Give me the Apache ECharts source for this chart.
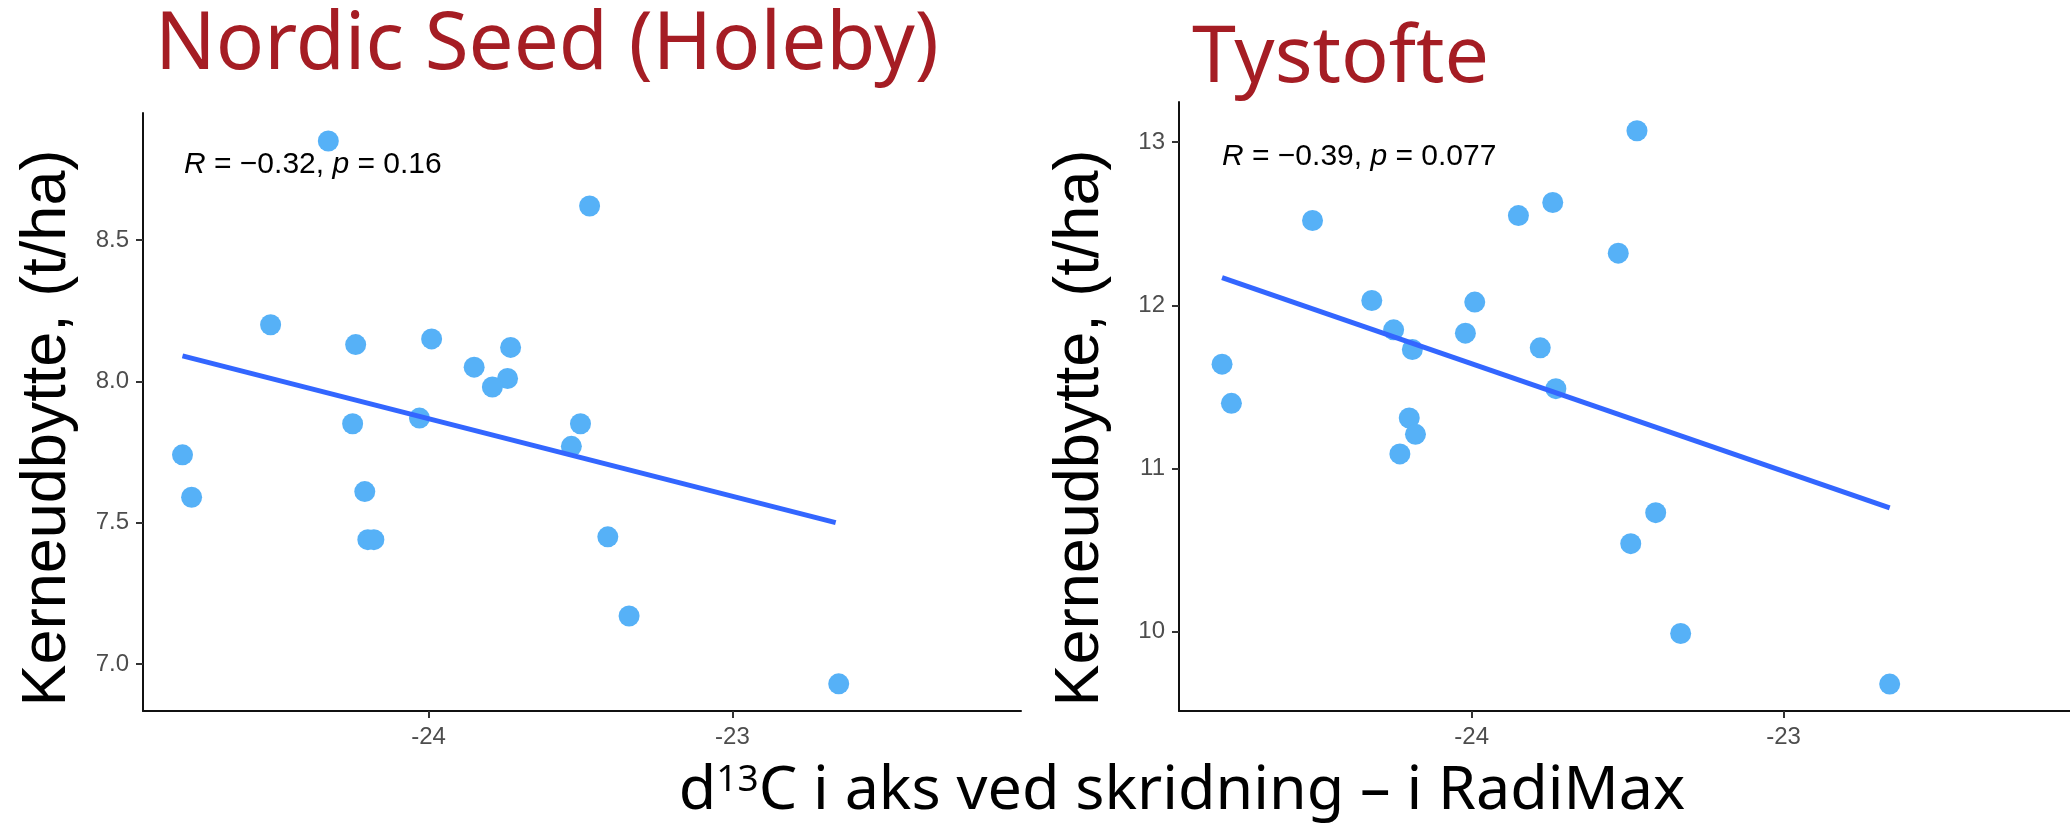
<!DOCTYPE html>
<html>
<head>
<meta charset="utf-8">
<script src="https://cdn.jsdelivr.net/npm/echarts@6/dist/echarts.min.js"></script>
<style>
html, body { margin: 0; padding: 0; background: #fff; }
#main { width: 2070px; height: 827px; }
</style>
</head>
<body>
<div id="main"></div>
<script>
// Nordic Seed (Holeby)
var holebyX = [-24.33, -23.47, -24.52, -24.24, -23.99, -23.73, -23.85, -23.74, -23.79, -24.25, -24.03,
               -23.50, -23.53, -24.81, -24.78, -24.21, -24.20, -24.18, -23.41, -23.34, -22.65];
var holebyY = [8.85, 8.62, 8.20, 8.13, 8.15, 8.12, 8.05, 8.01, 7.98, 7.85, 7.87,
               7.85, 7.77, 7.74, 7.59, 7.61, 7.44, 7.44, 7.45, 7.17, 6.93];
var holebyFitX = [-24.81, -22.66];
var holebyFitY = [8.09, 7.50];
var holebyStat = ['−0.32', '0.16'];

// Tystofte
var tystofteX = [-23.47, -24.51, -23.85, -23.74, -23.53, -24.32, -23.99, -24.25, -24.02, -24.19, -23.78,
                 -24.80, -23.73, -24.77, -24.20, -24.18, -24.23, -23.41, -23.49, -23.33, -22.66];
var tystofteY = [13.07, 12.52, 12.55, 12.63, 12.32, 12.03, 12.02, 11.85, 11.83, 11.73, 11.74,
                 11.64, 11.49, 11.40, 11.31, 11.21, 11.09, 10.73, 10.54, 9.99, 9.68];
var tystofteFitX = [-24.80, -22.66];
var tystofteFitY = [12.17, 10.76];
var tystofteStat = ['−0.39', '0.077'];

// ticks
var xTicks = [-24, -23];
var holebyYTicks = [7.0, 7.5, 8.0, 8.5];
var tystofteYTicks = [10, 11, 12, 13];

var titles = ['Nordic Seed (Holeby)', 'Tystofte'];
var yName = 'Kerneudbytte, (t/ha)';

function pairs(xs, ys) {
    return xs.map(function (x, i) { return [x, ys[i]]; });
}

var axisLineStyle = { show: true, lineStyle: { color: '#111', width: 2 } };
var tickStyle = { lineStyle: { color: '#333', width: 2 }, length: 7 };
var labelStyle = { color: '#4d4d4d', fontSize: 24, fontFamily: 'Liberation Sans', margin: 14 };

function xAxis(idx, min, max) {
    return {
        type: 'value', gridIndex: idx, min: min, max: max,
        axisLine: axisLineStyle,
        axisTick: Object.assign({ customValues: xTicks }, tickStyle),
        axisLabel: Object.assign({ customValues: xTicks }, labelStyle),
        splitLine: { show: false }
    };
}

function yAxis(idx, min, max, ticks, dec) {
    return {
        type: 'value', gridIndex: idx, min: min, max: max,
        axisLine: axisLineStyle,
        axisTick: Object.assign({ customValues: ticks }, tickStyle),
        axisLabel: Object.assign({
            customValues: ticks,
            formatter: function (v) { return v.toFixed(dec); }
        }, labelStyle),
        splitLine: { show: false }
    };
}

function statText(x, y, stat) {
    return {
        type: 'text', x: x, y: y,
        style: {
            text: '{i|R} = ' + stat[0] + ', {i|p} = ' + stat[1],
            font: '30px "Liberation Sans"',
            fill: '#000',
            verticalAlign: 'middle',
            rich: { i: { fontStyle: 'italic', fontSize: 30, fontFamily: 'Liberation Sans' } }
        }
    };
}

function yTitle(x) {
    return {
        type: 'text', x: x, y: 428, rotation: Math.PI / 2,
        style: {
            text: yName, font: '63px "Liberation Sans"', fill: '#000',
            align: 'center', verticalAlign: 'middle'
        }
    };
}

var chart = echarts.init(document.getElementById('main'));

chart.setOption({
    animation: false,
    backgroundColor: '#fff',
    title: [
        { text: titles[0], left: 150, top: 1,
          textStyle: { color: '#a51d24', fontSize: 80, fontWeight: 'normal', fontFamily: 'Noto Sans', lineHeight: 80 } },
        { text: titles[1], left: 1187, top: 15,
          textStyle: { color: '#a51d24', fontSize: 79, fontWeight: 'normal', fontFamily: 'Noto Sans', lineHeight: 79 } }
    ],
    grid: [
        { left: 143, top: 113, width: 878, height: 598 },
        { left: 1179, top: 102, width: 891, height: 609 }
    ],
    xAxis: [
        xAxis(0, -24.94, -22.05),
        xAxis(1, -24.938, -22.082)
    ],
    yAxis: [
        yAxis(0, 6.834, 8.949, holebyYTicks, 1),
        yAxis(1, 9.515, 13.246, tystofteYTicks, 0)
    ],
    series: [
        { type: 'scatter', xAxisIndex: 0, yAxisIndex: 0, symbolSize: 21,
          itemStyle: { color: '#56b1f7', opacity: 1 }, data: pairs(holebyX, holebyY) },
        { type: 'line', xAxisIndex: 0, yAxisIndex: 0, showSymbol: false, symbol: 'none',
          lineStyle: { color: '#3366ff', width: 5 }, data: pairs(holebyFitX, holebyFitY) },
        { type: 'scatter', xAxisIndex: 1, yAxisIndex: 1, symbolSize: 21,
          itemStyle: { color: '#56b1f7', opacity: 1 }, data: pairs(tystofteX, tystofteY) },
        { type: 'line', xAxisIndex: 1, yAxisIndex: 1, showSymbol: false, symbol: 'none',
          lineStyle: { color: '#3366ff', width: 5 }, data: pairs(tystofteFitX, tystofteFitY) }
    ],
    graphic: [
        statText(184, 165, holebyStat),
        statText(1222, 157, tystofteStat),
        yTitle(48),
        yTitle(1081),
        {
            type: 'text', x: 1182, y: 792,
            style: {
                text: '{m|d}{s|13}{m|C i aks ved skridning – i RadiMax}',
                align: 'center', verticalAlign: 'middle', fill: '#000',
                rich: {
                    m: { fontSize: 61, fontFamily: 'Noto Sans', lineHeight: 61 },
                    s: { fontSize: 37, fontFamily: 'Noto Sans', lineHeight: 37, verticalAlign: 'top' }
                }
            }
        }
    ]
});
</script>
</body>
</html>
